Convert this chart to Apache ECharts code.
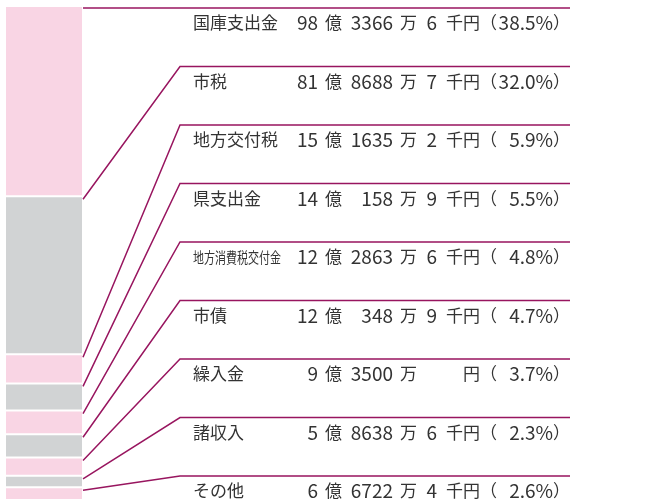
<!DOCTYPE html>
<html lang="ja">
<head>
<meta charset="UTF-8">
<title>歳入の内訳</title>
<style>
  html, body { margin: 0; padding: 0; background: #fff; overflow: hidden; }
  #main { width: 666px; height: 500px; }
</style>
<script src="https://cdn.jsdelivr.net/npm/echarts@6/dist/echarts.min.js"></script>
</head>
<body>
<div id="main"></div>
<script>
  // 歳入の内訳（億・万・千円、構成比）
  var names = ['国庫支出金', '市税', '地方交付税', '県支出金', '地方消費税交付金', '市債', '繰入金', '諸収入', 'その他'];
  var oku = [98, 81, 15, 14, 12, 12, 9, 5, 6];
  var man = [3366, 8688, 1635, 158, 2863, 348, 3500, 8638, 6722];
  var sen = [6, 7, 2, 9, 6, 9, null, 6, 4];
  var pct = [38.5, 32.0, 5.9, 5.5, 4.8, 4.7, 3.7, 2.3, 2.6];

  var PINK = '#f9d5e4';
  var GRAY = '#d1d3d4';
  var LINE = '#98155f';
  var TEXT = '#333333';
  var FONT = '"Noto Sans CJK JP", "Noto Sans", sans-serif';
  var KANJI = 17;   // 漢字
  var DIGIT = 19;   // 数字は少し大きめ

  // 積み上げの開始・終了位置
  var data = [];
  var acc = 0;
  for (var i = 0; i < pct.length; i++) {
    data.push([acc, acc + pct[i], i]);
    acc += pct[i];
  }

  function txt(x, y, s, align, size) {
    return {
      type: 'text',
      x: x,
      y: y,
      style: {
        text: s,
        x: 0,
        y: 0,
        fill: TEXT,
        font: size + 'px ' + FONT,
        textAlign: align,
        textVerticalAlign: 'middle'
      }
    };
  }

  function renderItem(params, api) {
    var idx = api.value(2);
    var top = api.coord([0, api.value(0)]);
    var bot = api.coord([1, api.value(1)]);
    var rowY = 8 + idx * 58.5;
    var ty = rowY + 15;
    var x0 = bot[0] + 1;
    var y0 = idx === 0 ? rowY : top[1] + 3;

    var children = [
      {
        type: 'rect',
        shape: { x: top[0], y: top[1] + 1, width: bot[0] - top[0], height: bot[1] - top[1] - 2 },
        style: { fill: idx % 2 === 0 ? PINK : GRAY }
      },
      {
        type: 'polyline',
        shape: { points: [[x0, y0], [180, rowY], [570, rowY]] },
        style: { stroke: LINE, lineWidth: 1.5, fill: null }
      }
    ];

    var name = names[idx];
    if (name.length > 5) {
      var label = txt(193, ty, name, 'left', 15);
      label.scaleX = 88 / (name.length * 15);
      children.push(label);
    } else {
      children.push(txt(193, ty, name, 'left', KANJI));
    }

    children.push(txt(318, ty, String(oku[idx]), 'right', DIGIT));
    children.push(txt(325, ty, '億', 'left', KANJI));
    children.push(txt(393, ty, String(man[idx]), 'right', DIGIT));
    children.push(txt(400, ty, '万', 'left', KANJI));
    if (sen[idx] != null) {
      children.push(txt(437, ty, String(sen[idx]), 'right', DIGIT));
      children.push(txt(480, ty, '千円', 'right', KANJI));
    } else {
      children.push(txt(480, ty, '円', 'right', KANJI));
    }
    children.push(txt(480, ty, '（', 'left', KANJI));
    children.push(txt(553, ty, pct[idx].toFixed(1) + '%', 'right', DIGIT));
    children.push(txt(553, ty, '）', 'left', KANJI));

    return { type: 'group', children: children };
  }

  var chart = echarts.init(document.getElementById('main'));
  chart.setOption({
    animation: false,
    grid: { left: 6, top: 6, width: 76, height: 496 },
    xAxis: { type: 'value', min: 0, max: 1, show: false },
    yAxis: { type: 'value', min: 0, max: 100, inverse: true, show: false },
    series: [{
      type: 'custom',
      renderItem: renderItem,
      data: data,
      clip: false
    }]
  });
</script>
</body>
</html>
